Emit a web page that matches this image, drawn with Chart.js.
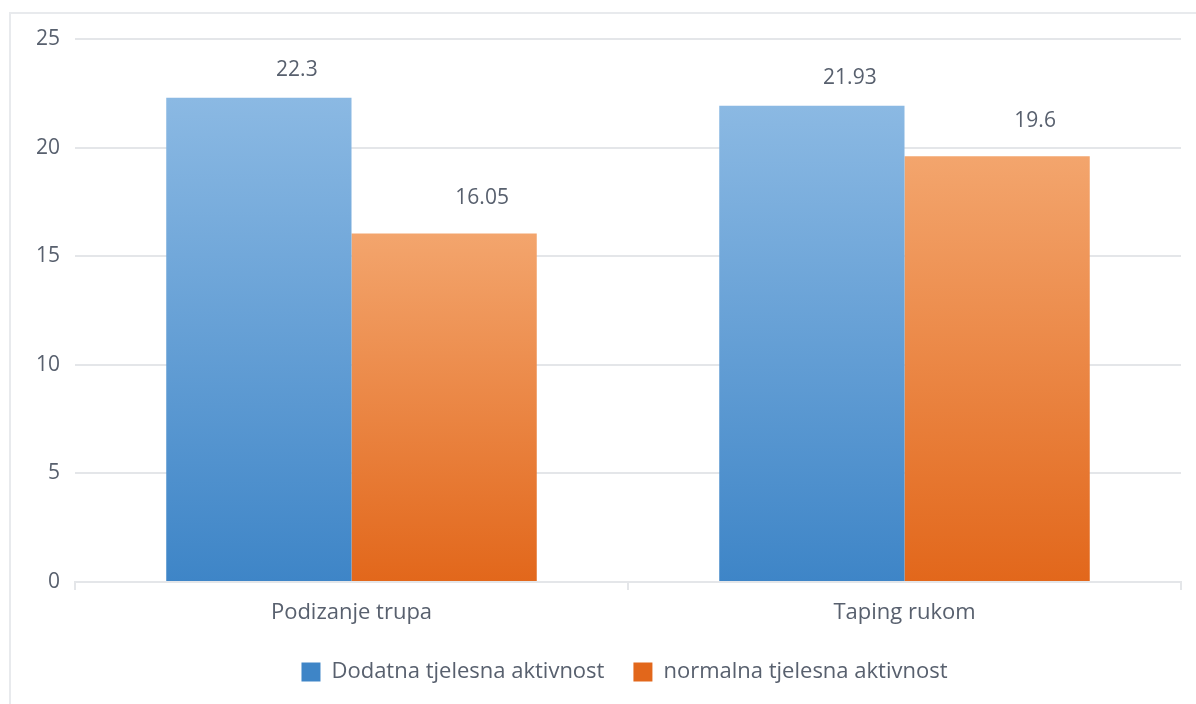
<!DOCTYPE html>
<html>
<head>
<meta charset="utf-8">
<script src="https://cdn.jsdelivr.net/npm/chart.js@4.4.1/dist/chart.umd.min.js"></script>
<style>
    html, body { margin: 0; padding: 0; background: #fff; }
    #wrap { position: relative; width: 1196px; height: 704px; overflow: hidden; }
    #frame { position: absolute; left: 9px; top: 12px; width: 1300px; height: 800px; border: 2px solid #e8eaed; box-sizing: border-box; }
    canvas { position: absolute; left: 0; top: 0; }
</style>
</head>
<body>
<div id="wrap">
    <div id="frame"></div>
    <canvas id="chart" width="1196" height="704"></canvas>
</div>
<script>
const categories = ['Podizanje trupa', 'Taping rukom'];
const seriesNames = ['Dodatna tjelesna aktivnost', 'normalna tjelesna aktivnost'];
const dodatnaValues = [22.3, 21.93];
const normalnaValues = [16.05, 19.6];
const yTicks = [0, 5, 10, 15, 20, 25];

const textColor = '#58606e';
const gridColor = '#e4e6e9';

const barGradient = (top, bottom, solid) => ctx => {
    const chart = ctx.chart;
    if (!chart.chartArea || ctx.dataIndex === undefined) return solid;
    const y = chart.scales.y;
    const v = ctx.dataset.data[ctx.dataIndex];
    const g = chart.ctx.createLinearGradient(0, y.getPixelForValue(v), 0, y.getPixelForValue(0));
    g.addColorStop(0, top);
    g.addColorStop(1, bottom);
    return g;
};

// values above bars, shifted right like in the original
const valueLabels = {
    id: 'valueLabels',
    afterDatasetsDraw(chart) {
        const ctx = chart.ctx;
        ctx.save();
        ctx.font = '21px "Open Sans"';
        ctx.fillStyle = textColor;
        ctx.textAlign = 'center';
        ctx.textBaseline = 'middle';
        chart.data.datasets.forEach((ds, i) => {
            chart.getDatasetMeta(i).data.forEach((bar, j) => {
                ctx.fillText(String(ds.data[j]), bar.x + 38, bar.y - ds.labelOffset);
            });
        });
        ctx.restore();
    }
};

// legend sits a bit right of the canvas centre
const legendShift = {
    id: 'legendShift',
    afterLayout(chart) {
        chart.legend.left += 34;
        chart.legend.right += 34;
    }
};

new Chart(document.getElementById('chart'), {
    type: 'bar',
    data: {
        labels: categories,
        datasets: [
            {
                label: seriesNames[0],
                data: dodatnaValues,
                backgroundColor: barGradient('#8bb9e3', '#3e85c7', '#5a9ad6'),
                labelOffset: 28
            },
            {
                label: seriesNames[1],
                data: normalnaValues,
                backgroundColor: barGradient('#f3a56d', '#e2671b', '#ef7d2a'),
                labelOffset: 35
            }
        ]
    },
    options: {
        responsive: false,
        animation: false,
        devicePixelRatio: 1,
        categoryPercentage: 0.67,
        barPercentage: 1.0,
        layout: { padding: { left: 0, right: 15, top: 39, bottom: 11 } },
        plugins: {
            tooltip: { enabled: false },
            legend: {
                position: 'bottom',
                labels: {
                    color: textColor,
                    font: { family: 'Open Sans', size: 22 },
                    boxWidth: 19,
                    boxHeight: 19,
                    padding: 29
                }
            }
        },
        scales: {
            x: {
                afterFit: s => { s.height = 50; },
                grid: { drawOnChartArea: false, drawTicks: true, tickLength: 8, color: gridColor, lineWidth: 2 },
                border: { color: gridColor, width: 2 },
                ticks: { color: textColor, font: { family: 'Open Sans', size: 22 }, padding: 10 }
            },
            y: {
                min: 0,
                max: 25,
                afterFit: s => { s.width = 75; },
                afterBuildTicks: s => { s.ticks = yTicks.map(v => ({ value: v })); },
                grid: { drawTicks: false, color: gridColor, lineWidth: 2 },
                border: { display: false },
                ticks: { color: textColor, font: { family: 'Open Sans', size: 21 }, padding: 15 }
            }
        }
    },
    plugins: [valueLabels, legendShift]
});
</script>
</body>
</html>
